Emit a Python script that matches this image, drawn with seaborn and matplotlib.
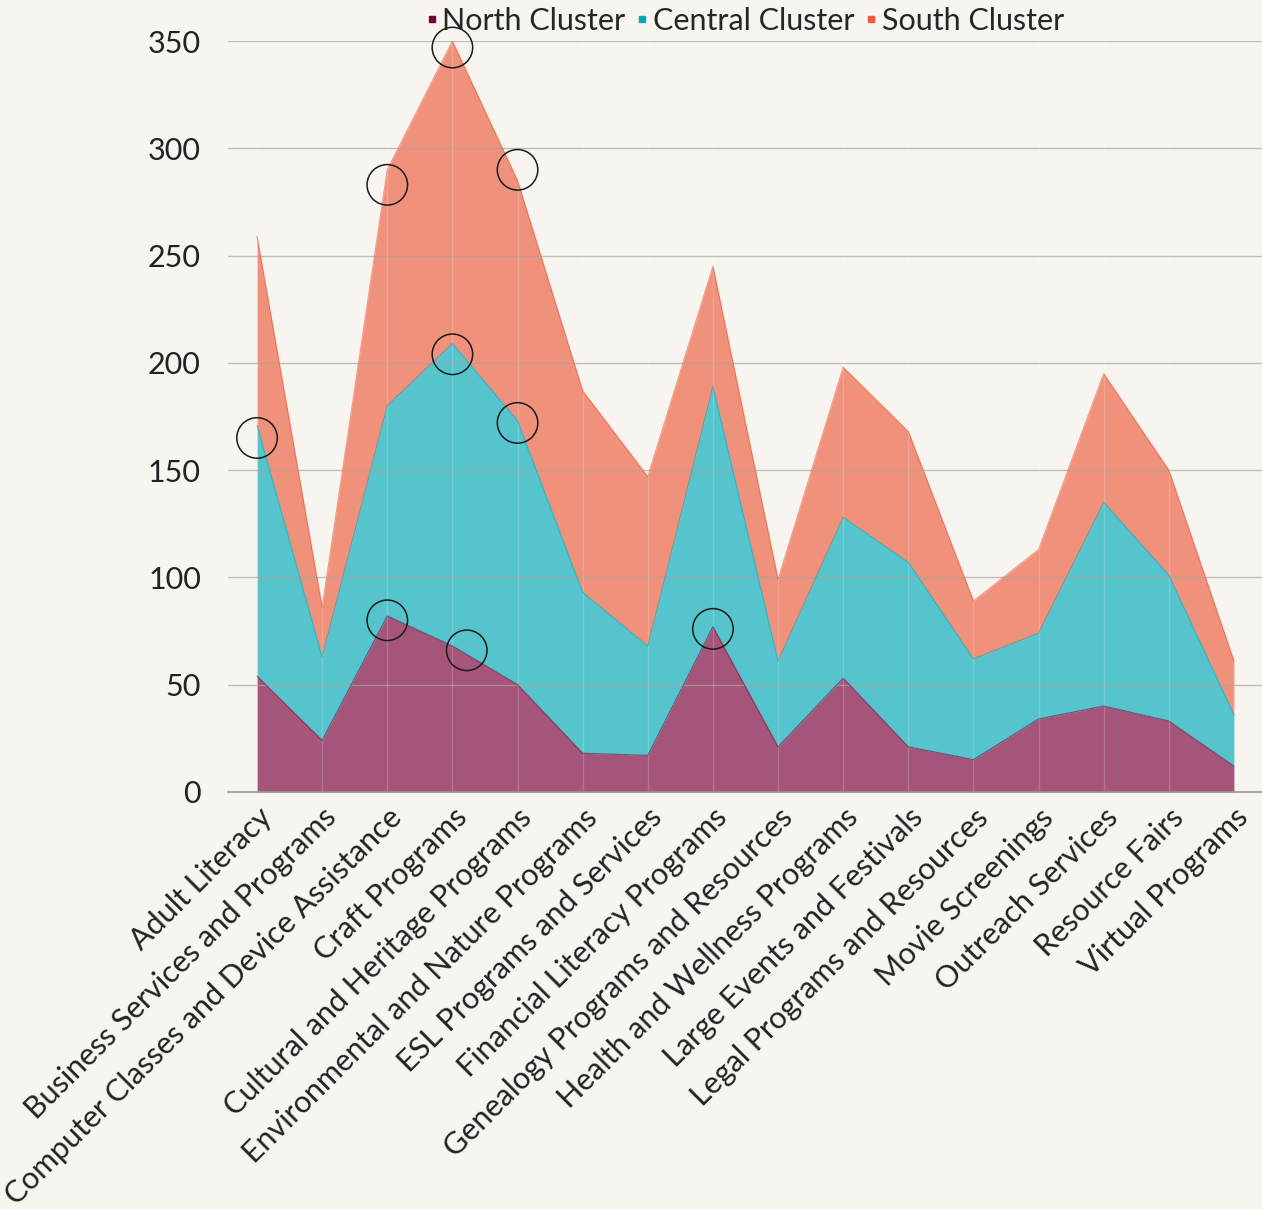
import matplotlib
matplotlib.use("Agg")
import matplotlib.pyplot as plt
from matplotlib.lines import Line2D
import seaborn as sns
import numpy as np

# --------------------
# data
# --------------------
categories = ["Adult Literacy", "Business Services and Programs",
              "Computer Classes and Device Assistance", "Craft Programs",
              "Cultural and Heritage Programs", "Environmental and Nature Programs",
              "ESL Programs and Services", "Financial Literacy Programs",
              "Genealogy Programs and Resources", "Health and Wellness Programs",
              "Large Events and Festivals", "Legal Programs and Resources",
              "Movie Screenings", "Outreach Services", "Resource Fairs",
              "Virtual Programs"]
north = [54, 24, 82, 68, 50, 18, 17, 77, 21, 53, 21, 15, 34, 40, 33, 12]
central = [117, 39, 98, 141, 123, 75, 51, 112, 40, 75, 86, 47, 40, 95, 68, 24]
south = [88, 23, 110, 141, 112, 94, 79, 56, 38, 70, 61, 27, 39, 60, 49, 25]
series_names = ["North Cluster", "Central Cluster", "South Cluster"]

# highlighted points (hollow circles)
circle_x = [0, 2, 3, 4.0, 3, 4.0, 2, 3.22, 7]
circle_y = [165, 283, 347, 290, 204, 172, 80, 66, 76]

colors = ["#78003a", "#00aaba", "#ec5b3c"]
bg = "#f8f5f0"

# --------------------
# plot
# --------------------
sns.set_style("white", {"axes.facecolor": bg, "figure.facecolor": bg})
plt.rcParams["font.family"] = ["Lato", "DejaVu Sans"]

fig = plt.figure(figsize=(12.62, 12.09), dpi=100)
ax = fig.add_axes([0.1807, 0.345, 0.8193, 0.621])

x = np.arange(len(categories))
polys = ax.stackplot(x, north, central, south, colors=colors, alpha=0.65,
                     labels=series_names, zorder=1, linewidth=0)

# thin outline on top of every layer
tops = np.cumsum([north, central, south], axis=0)
for top, c in zip(tops, colors):
    ax.plot(x, top, color=c, lw=0.9, alpha=0.55, zorder=3)

# grid drawn over the areas
for yv in range(50, 351, 50):
    ax.axhline(yv, color="#a9a4a0", lw=1.0, alpha=0.7, zorder=2)
for xv in x:
    ax.axvline(xv, color="white", lw=1.0, alpha=0.18, zorder=2)

sns.scatterplot(x=circle_x, y=circle_y, ax=ax, s=850, marker="o",
                facecolor="none", edgecolor="#1a1a1a", linewidth=1.1,
                zorder=5, clip_on=False, legend=False)

ax.set_xlim(-0.445, 15.43)
ax.set_ylim(0, 350)
ax.set_yticks(range(0, 351, 50))
ax.tick_params(axis="y", labelsize=22, length=0, pad=19.5, colors="#222222")
ax.set_xticks(x)
ax.set_xticklabels(categories, rotation=45, ha="right", rotation_mode="anchor",
                   fontsize=22, color="#222222")
ax.tick_params(axis="x", length=0, pad=8)

for s in ["top", "right", "left"]:
    ax.spines[s].set_visible(False)
ax.spines["bottom"].set_color("#9a9692")
ax.spines["bottom"].set_linewidth(1.2)

handles = [Line2D([], [], marker="s", linestyle="none", markersize=4,
                  color=c) for c in colors]
ax.legend(handles, series_names, loc="center", bbox_to_anchor=(0.5, 1.027),
          ncol=3, frameon=False, fontsize=22, handlelength=0.4,
          handletextpad=0.15, columnspacing=0.35, borderaxespad=0)

fig.savefig("out.png", dpi=100, facecolor=bg)
